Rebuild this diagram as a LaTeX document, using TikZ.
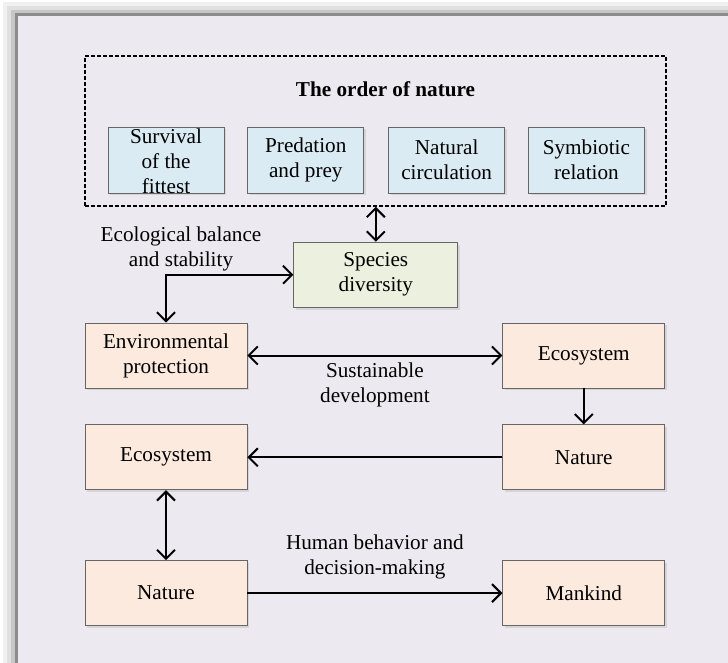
\documentclass[tikz,border=0pt]{standalone}
\usepackage{fontspec}
\setmainfont{Liberation Serif}
\usepackage{xcolor}
\usepackage{tikz}
\usetikzlibrary{positioning, arrows.meta, shadows}

\definecolor{framebg}{RGB}{236,234,240}
\definecolor{orderblue}{RGB}{218,235,243}
\definecolor{speciesgreen}{RGB}{235,241,222}
\definecolor{mainpeach}{RGB}{252,234,222}

\tikzstyle{orderframe} = [rectangle, draw=black, line width=0.8pt, dash pattern=on 2pt off 1pt]
\tikzstyle{orderitem} = [rectangle, minimum width=58pt, minimum height=33pt, inner sep=1pt, align=center, draw=black!60, fill=orderblue, font=\fontsize{10.6pt}{12.5pt}\selectfont, drop shadow={opacity=0.2, shadow xshift=1.2pt, shadow yshift=-1.2pt}]
\tikzstyle{speciesbox} = [rectangle, minimum width=82pt, minimum height=32.5pt, align=center, draw=black!60, fill=speciesgreen, font=\fontsize{10.6pt}{12.5pt}\selectfont, drop shadow={opacity=0.2, shadow xshift=1.2pt, shadow yshift=-1.2pt}]
\tikzstyle{mainbox} = [rectangle, minimum width=81pt, minimum height=32.5pt, align=center, draw=black!60, fill=mainpeach, font=\fontsize{10.6pt}{12.5pt}\selectfont, drop shadow={opacity=0.2, shadow xshift=1.2pt, shadow yshift=-1.2pt}]
\tikzstyle{labeltext} = [align=center, font=\fontsize{10.6pt}{12.5pt}\selectfont]
\tikzstyle{titletext} = [font=\fontsize{10.6pt}{12.5pt}\selectfont\bfseries]
\tikzstyle{arrow} = [line width=1pt, ->, >={Straight Barb[length=4.5pt,width=9pt]}]

\begin{document}
\begin{tikzpicture}
        \useasboundingbox (0,0) rectangle (364pt,-331.5pt);
        % frame with its soft shadow
        \fill[black!6] (1.5pt,-1pt) rectangle (370pt,-340pt);
        \fill[black!12] (3.5pt,-3pt) rectangle (370pt,-340pt);
        \fill[black!22] (5.5pt,-5pt) rectangle (370pt,-340pt);
        \fill[framebg, draw=black!45, line width=1.5pt] (8pt,-7.5pt) rectangle (370pt,-340pt);

        \node (order) [orderframe, minimum width=290.5pt, minimum height=75pt] at (187.75pt,-65.5pt) {};
        \node (ordertitle) [titletext, below=9.6pt of order.north, xshift=5pt] {The order of nature};

        \node (survival) [orderitem] at (83pt,-80pt) {\smash{\raisebox{-4.4pt}{\begin{tabular}{@{}c@{}}Survival\\of the\\fittest\end{tabular}}}};
        \node (predation) [orderitem, right=11.5pt of survival] {Predation\\and prey};
        \node (circulation) [orderitem, right=12pt of predation] {Natural\\circulation};
        \node (symbiotic) [orderitem, right=11.5pt of circulation] {Symbiotic\\relation};

        \node (envprot) [mainbox] at (83pt,-177.75pt) {Environmental\\protection};
        \node (species) [speciesbox, above right=7.5pt and 23pt of envprot] {Species\\diversity};
        \node (ecoright) [mainbox, right=127.5pt of envprot] {Ecosystem};
        \node (natureright) [mainbox, below=18pt of ecoright] {Nature};
        \node (ecoleft) [mainbox, below=18pt of envprot] {Ecosystem};
        \node (natureleft) [mainbox, below=35pt of ecoleft] {Nature};
        \node (mankind) [mainbox, right=127.5pt of natureleft] {Mankind};

        \node (balance) [labeltext] at (90.5pt,-124.5pt) {Ecological balance\\and stability};

        \draw [arrow, <->] (species.north) -- (species.north |- order.south);
        \draw [arrow, <->] (envprot.north) |- (species.west);
        \draw [arrow, <->] (envprot.east) -- node[labeltext, below] (sustain) {Sustainable\\development} (ecoright.west);
        \draw [arrow] (ecoright.south) -- (ecoright.south |- natureright.north);
        \draw [arrow] (natureright.west) -- (ecoleft.east);
        \draw [arrow, <->] (ecoleft.south) -- (natureleft.north);
        \draw [arrow] (natureleft.east) -- node[labeltext, above, yshift=3pt] (behavior) {Human behavior and\\decision-making} (mankind.west);
        % arrows end on the box borders

    \end{tikzpicture}
\end{document}
